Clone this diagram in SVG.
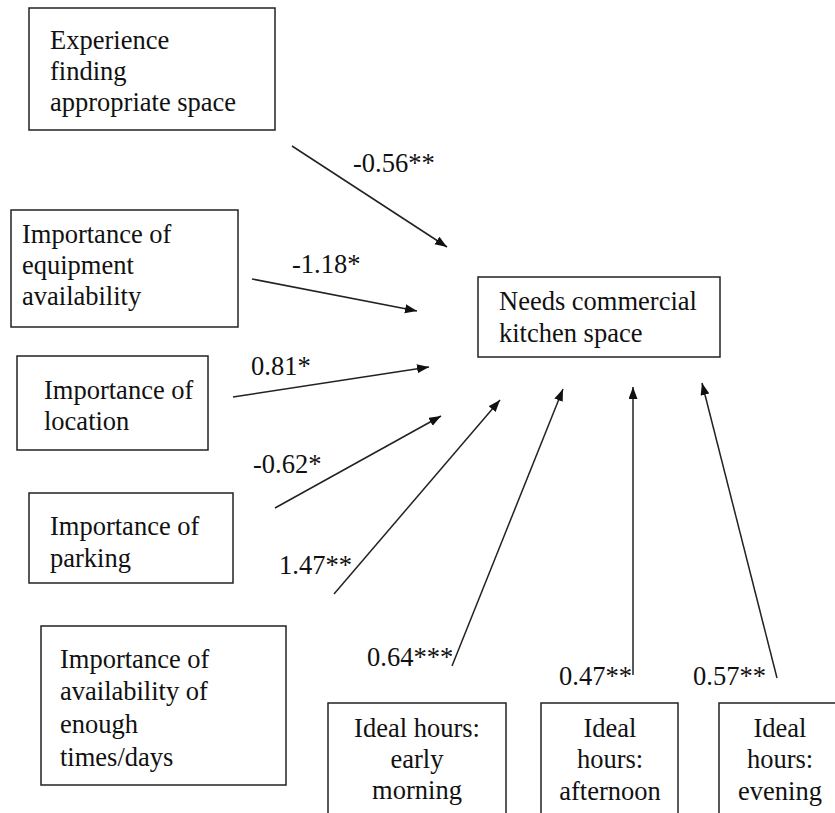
<svg xmlns="http://www.w3.org/2000/svg" width="835" height="813" viewBox="0 0 835 813">
<style>
  .box { fill: #fff; stroke: #222; stroke-width: 1.5; }
  .t { font-family: "Liberation Serif", "Times New Roman", serif; font-size: 26.5px; fill: #111; }
  .c { text-anchor: middle; }
  .edge { stroke: #222; stroke-width: 1.5; fill: none; marker-end: url(#arr); }
</style>
<defs>
  <marker id="arr" markerUnits="userSpaceOnUse" markerWidth="13" markerHeight="10" refX="12" refY="4.5" orient="auto">
    <path d="M0,0 L12,4.5 L0,9 z" fill="#111"/>
  </marker>
</defs>
<rect width="835" height="813" fill="#fff"/>
<g id="n_experience">
  <rect class="box" x="29" y="8" width="246" height="122"/>
  <text class="t" x="50" y="49">Experience</text>
  <text class="t" x="50" y="80">finding</text>
  <text class="t" x="50" y="111">appropriate space</text>
</g>
<g id="n_equipment">
  <rect class="box" x="11" y="210" width="227" height="117"/>
  <text class="t" x="22" y="243">Importance of</text>
  <text class="t" x="22" y="274">equipment</text>
  <text class="t" x="22" y="305">availability</text>
</g>
<g id="n_location">
  <rect class="box" x="17" y="356" width="191" height="94"/>
  <text class="t" x="44" y="399">Importance of</text>
  <text class="t" x="44" y="430">location</text>
</g>
<g id="n_parking">
  <rect class="box" x="29" y="493" width="204" height="90"/>
  <text class="t" x="50" y="535">Importance of</text>
  <text class="t" x="50" y="567">parking</text>
</g>
<g id="n_times">
  <rect class="box" x="41" y="626" width="245" height="159"/>
  <text class="t" x="60" y="668">Importance of</text>
  <text class="t" x="60" y="700">availability of</text>
  <text class="t" x="60" y="733">enough</text>
  <text class="t" x="60" y="766">times/days</text>
</g>
<g id="n_needs">
  <rect class="box" x="478" y="277" width="242" height="80"/>
  <text class="t" x="499" y="310">Needs commercial</text>
  <text class="t" x="499" y="342">kitchen space</text>
</g>
<g id="n_morning">
  <rect class="box" x="328" y="703" width="178" height="120"/>
  <text class="t c" x="417" y="737">Ideal hours:</text>
  <text class="t c" x="417" y="768">early</text>
  <text class="t c" x="417" y="799">morning</text>
</g>
<g id="n_afternoon">
  <rect class="box" x="541" y="703" width="137" height="120"/>
  <text class="t c" x="610" y="737">Ideal</text>
  <text class="t c" x="610" y="768">hours:</text>
  <text class="t c" x="610" y="800">afternoon</text>
</g>
<g id="n_evening">
  <rect class="box" x="719" y="703" width="124" height="120"/>
  <text class="t c" x="780" y="737">Ideal</text>
  <text class="t c" x="780" y="768">hours:</text>
  <text class="t c" x="780" y="800">evening</text>
</g>
<g id="connectors">
  <line class="edge" x1="292" y1="146" x2="447" y2="247"/>
  <line class="edge" x1="252" y1="279" x2="417" y2="311"/>
  <line class="edge" x1="233" y1="397" x2="429" y2="367"/>
  <line class="edge" x1="275" y1="508" x2="441" y2="416"/>
  <line class="edge" x1="334" y1="594" x2="500" y2="400"/>
  <line class="edge" x1="452" y1="666" x2="563" y2="389"/>
  <line class="edge" x1="633" y1="675" x2="633" y2="387"/>
  <line class="edge" x1="777" y1="678" x2="702" y2="383"/>
  <text class="t" x="353" y="172">-0.56**</text>
  <text class="t" x="292" y="273">-1.18*</text>
  <text class="t" x="251" y="375">0.81*</text>
  <text class="t" x="253" y="473">-0.62*</text>
  <text class="t" x="279" y="574">1.47**</text>
  <text class="t" x="367" y="666">0.64***</text>
  <text class="t" x="559" y="685">0.47**</text>
  <text class="t" x="693" y="685">0.57**</text>
</g>
</svg>
